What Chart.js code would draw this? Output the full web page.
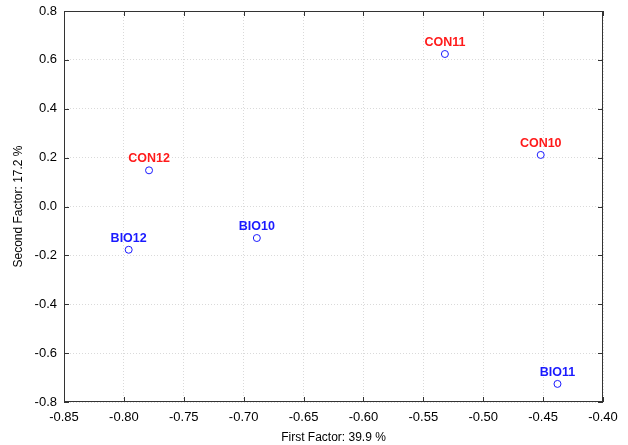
<!DOCTYPE html>
<html>
<head>
<meta charset="utf-8">
<script src="https://cdn.jsdelivr.net/npm/chart.js@4.4.1/dist/chart.umd.min.js"></script>
<style>
  html, body { margin: 0; padding: 0; background: #fff; }
  #wrap { width: 628px; height: 445px; }
</style>
</head>
<body>
<div id="wrap"><canvas id="chart" width="628" height="445"></canvas></div>
<script>
// sample names, factor scores and group
var sampleNames = ['CON11', 'CON10', 'CON12', 'BIO12', 'BIO10', 'BIO11'];
var factor1 = [-0.532, -0.452, -0.779, -0.796, -0.689, -0.438];
var factor2 = [0.624, 0.211, 0.148, -0.177, -0.129, -0.726];
var labelColors = ['#ff1a1a', '#ff1a1a', '#ff1a1a', '#1a1aff', '#1a1aff', '#1a1aff'];

var xTicks = [-0.85, -0.80, -0.75, -0.70, -0.65, -0.60, -0.55, -0.50, -0.45, -0.40];
var yTicks = [-0.8, -0.6, -0.4, -0.2, 0.0, 0.2, 0.4, 0.6, 0.8];

var points = [];
for (var i = 0; i < sampleNames.length; i++) {
  points.push({x: factor1[i], y: factor2[i]});
}

// frame with inward tick marks
var framePlugin = {
  id: 'frame',
  afterDraw: function(chart) {
    var ctx = chart.ctx, a = chart.chartArea;
    var sx = chart.scales.x, sy = chart.scales.y;
    ctx.save();
    ctx.strokeStyle = '#333';
    ctx.lineWidth = 1;
    ctx.strokeRect(a.left + 0.5, a.top + 0.5, a.right - a.left - 1, a.bottom - a.top - 1);
    ctx.beginPath();
    xTicks.forEach(function(v) {
      var px = Math.round(sx.getPixelForValue(v)) + 0.5;
      ctx.moveTo(px, a.top); ctx.lineTo(px, a.top + 5);
      ctx.moveTo(px, a.bottom); ctx.lineTo(px, a.bottom - 5);
    });
    yTicks.forEach(function(v) {
      var py = Math.round(sy.getPixelForValue(v)) + 0.5;
      ctx.moveTo(a.left, py); ctx.lineTo(a.left + 5, py);
      ctx.moveTo(a.right, py); ctx.lineTo(a.right - 5, py);
    });
    ctx.stroke();
    ctx.restore();
  }
};

// sample names above each point
var namePlugin = {
  id: 'names',
  afterDatasetsDraw: function(chart) {
    var ctx = chart.ctx;
    var meta = chart.getDatasetMeta(0);
    ctx.save();
    ctx.font = 'bold 12.5px "Liberation Sans", Arial, sans-serif';
    ctx.textAlign = 'center';
    ctx.textBaseline = 'alphabetic';
    meta.data.forEach(function(el, i) {
      ctx.fillStyle = labelColors[i];
      ctx.fillText(sampleNames[i], el.x, el.y - 8);
    });
    ctx.restore();
  }
};

var fontFamily = '"Liberation Sans", Arial, sans-serif';

new Chart(document.getElementById('chart').getContext('2d'), {
  type: 'scatter',
  data: {
    datasets: [{
      data: points,
      pointStyle: 'circle',
      pointRadius: 3.5,
      pointHoverRadius: 3.5,
      pointBorderWidth: 1,
      pointBorderColor: '#1a1aff',
      pointBackgroundColor: '#ffffff'
    }]
  },
  options: {
    responsive: false,
    animation: false,
    events: [],
    layout: { padding: { left: 0, right: 25, top: 11, bottom: 0 } },
    plugins: { legend: { display: false }, tooltip: { enabled: false } },
    scales: {
      x: {
        type: 'linear',
        min: -0.85,
        max: -0.40,
        afterBuildTicks: function(s) { s.ticks = xTicks.map(function(v) { return {value: v}; }); },
        afterFit: function(s) { s.height = 43; s.paddingLeft = 0; s.paddingRight = 0; },
        grid: { color: '#dadada', drawTicks: false },
        border: { display: false, dash: [1, 2] },
        ticks: {
          padding: 8,
          color: '#000',
          font: { family: fontFamily, size: 13 },
          maxRotation: 0,
          autoSkip: false,
          callback: function(v) { return Number(v).toFixed(2); }
        },
        title: {
          display: true,
          text: 'First Factor: 39.9 %',
          color: '#000',
          font: { family: fontFamily, size: 12 },
          padding: { top: 6, bottom: 0 }
        }
      },
      y: {
        type: 'linear',
        min: -0.8,
        max: 0.8,
        afterBuildTicks: function(s) { s.ticks = yTicks.map(function(v) { return {value: v}; }); },
        afterFit: function(s) { s.width = 64; s.paddingTop = 0; s.paddingBottom = 0; },
        grid: { color: '#dadada', drawTicks: false },
        border: { display: false, dash: [1, 2] },
        ticks: {
          padding: 7,
          color: '#000',
          font: { family: fontFamily, size: 13 },
          autoSkip: false,
          callback: function(v) { return Math.abs(v) < 1e-9 ? '0.0' : Number(v).toFixed(1); }
        },
        title: {
          display: true,
          text: 'Second Factor: 17.2 %',
          color: '#000',
          font: { family: fontFamily, size: 12 },
          padding: { top: 11, bottom: 4 }
        }
      }
    }
  },
  plugins: [framePlugin, namePlugin]
});
</script>
</body>
</html>
